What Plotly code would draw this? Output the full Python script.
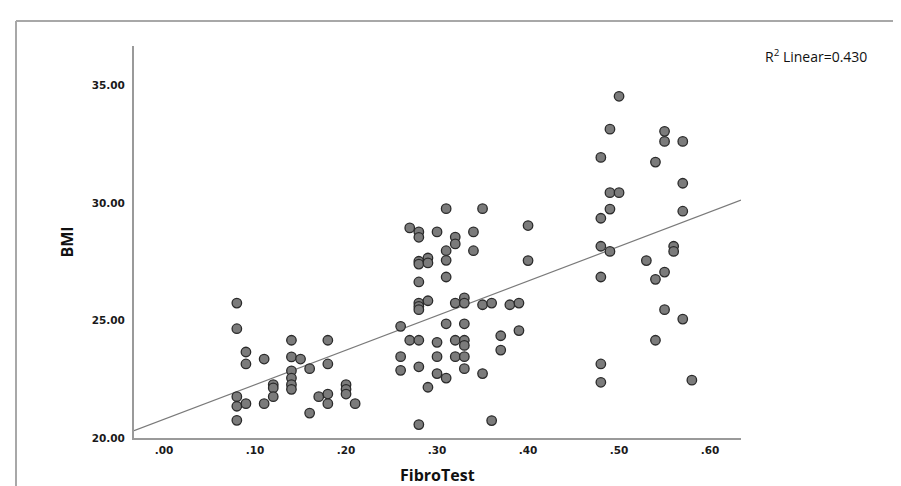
import plotly.graph_objects as go

# ---- data ----
fibrotest = [
    0.08, 0.08, 0.08, 0.08, 0.08,
    0.09, 0.09, 0.09,
    0.11, 0.11,
    0.12, 0.12, 0.12,
    0.14, 0.14, 0.14, 0.14, 0.14, 0.14,
    0.15,
    0.16, 0.16,
    0.17,
    0.18, 0.18, 0.18, 0.18,
    0.20, 0.20, 0.20,
    0.21,
    0.26, 0.26, 0.26,
    0.27, 0.27,
    0.28, 0.28, 0.28, 0.28, 0.28, 0.28, 0.28, 0.28, 0.28, 0.28, 0.28,
    0.29, 0.29, 0.29, 0.29,
    0.30, 0.30, 0.30, 0.30,
    0.31, 0.31, 0.31, 0.31, 0.31, 0.31,
    0.32, 0.32, 0.32, 0.32, 0.32,
    0.33, 0.33, 0.33, 0.33, 0.33, 0.33, 0.33,
    0.34, 0.34,
    0.35, 0.35, 0.35,
    0.36, 0.36,
    0.37, 0.37,
    0.38,
    0.39, 0.39,
    0.40, 0.40,
    0.48, 0.48, 0.48, 0.48, 0.48, 0.48,
    0.49, 0.49, 0.49, 0.49,
    0.50, 0.50,
    0.53,
    0.54, 0.54, 0.54,
    0.55, 0.55, 0.55, 0.55,
    0.56, 0.56,
    0.57, 0.57, 0.57, 0.57,
    0.58,
]
bmi = [
    25.74, 24.65, 21.76, 21.35, 20.75,
    23.66, 23.15, 21.46,
    23.36, 21.46,
    22.27, 22.13, 21.76,
    24.16, 23.45, 22.86, 22.55, 22.27, 22.07,
    23.36,
    22.95, 21.06,
    21.76,
    24.16, 23.15, 21.87, 21.46,
    22.27, 22.07, 21.87,
    21.46,
    24.75, 23.46, 22.88,
    28.94, 24.16,
    28.77, 28.54, 27.52, 27.40, 26.64, 25.74, 25.60, 25.46, 24.16, 23.03, 20.57,
    27.66, 27.45, 25.84, 22.16,
    28.77, 24.07, 23.46, 22.74,
    29.76, 27.97, 27.56, 26.85, 24.86, 22.55,
    28.55, 28.26, 25.74, 24.16, 23.46,
    25.96, 25.74, 24.86, 24.16, 23.94, 23.46, 22.95,
    28.77, 27.97,
    29.76, 25.67, 22.74,
    25.74, 20.74,
    24.35, 23.74,
    25.67,
    25.74, 24.57,
    29.04, 27.55,
    31.94, 29.35, 28.16, 26.85, 23.15, 22.37,
    33.14, 30.44, 29.74, 27.94,
    34.54, 30.44,
    27.55,
    31.74, 26.75, 24.16,
    33.05, 32.62, 27.06, 25.46,
    28.16, 27.94,
    32.62, 30.84, 29.65, 25.06,
    22.46,
]

# fitted line (BMI = a + b * FibroTest)
fit_intercept = 20.8
fit_slope = 14.7
r2_text = "R<sup>2</sup> Linear=0.430"

x_range = [-0.033, 0.634]
y_range = [20.0, 36.68]
x_ticks = [0.0, 0.1, 0.2, 0.3, 0.4, 0.5, 0.6]
x_tick_text = [".00", ".10", ".20", ".30", ".40", ".50", ".60"]
y_ticks = [20, 25, 30, 35]
y_tick_text = ["20.00", "25.00", "30.00", "35.00"]

# ---- layout geometry (pixels) ----
W, H = 901, 486
L, R, T, B = 126, 168, 38, 56
PW, PH = W - L - R, H - T - B


def px(xp):
    return (xp - L) / PW


def py(yp):
    return (H - B - yp) / PH


fig = go.Figure()

fit_x = [x_range[0], x_range[1]]
fit_y = [fit_intercept + fit_slope * v for v in fit_x]
fig.add_trace(go.Scatter(
    x=fit_x, y=fit_y, mode="lines",
    line=dict(color="#7a7a7a", width=1.2),
    hoverinfo="skip", showlegend=False,
))

fig.add_trace(go.Scatter(
    x=fibrotest, y=bmi, mode="markers",
    marker=dict(size=9.5, color="#7b7b7b",
                line=dict(color="#2a2a2a", width=1.3)),
    showlegend=False,
))

axis_font = dict(family="DejaVu Sans", size=10.5, color="#1a1a1a", weight="bold")

fig.update_xaxes(
    range=x_range, tickvals=x_ticks, ticktext=x_tick_text,
    showgrid=False, zeroline=False, showline=True,
    linecolor="#9a9a9a", linewidth=2, ticks="",
    tickfont=axis_font, ticklabelstandoff=1,
)
fig.update_yaxes(
    range=y_range, tickvals=y_ticks, ticktext=y_tick_text,
    showgrid=False, zeroline=False, showline=True,
    linecolor="#9a9a9a", linewidth=2, ticks="",
    tickfont=axis_font, ticklabelstandoff=5,
)

# outer frame (left and top edges)
fig.add_shape(type="line", xref="paper", yref="paper",
              x0=px(8), x1=px(8), y0=py(13), y1=py(H + 5),
              line=dict(color="#a8a8a8", width=2))
fig.add_shape(type="line", xref="paper", yref="paper",
              x0=px(8), x1=px(W + 5), y0=py(13), y1=py(13),
              line=dict(color="#a8a8a8", width=2))

fig.add_annotation(text="<b>BMI</b>", xref="paper", yref="paper",
                   x=px(58.5), y=0.5, textangle=-90, showarrow=False,
                   xanchor="center", yanchor="middle",
                   font=dict(family="Open Sans", size=16, color="#111111"))
fig.add_annotation(text="<b>FibroTest</b>", xref="paper", yref="paper",
                   x=0.5, y=py(467), showarrow=False,
                   xanchor="center", yanchor="middle",
                   font=dict(family="Open Sans", size=16, color="#111111"))
fig.add_annotation(text=r2_text, xref="paper", yref="paper",
                   x=px(755), y=py(48), showarrow=False,
                   xanchor="left", yanchor="middle",
                   font=dict(family="Open Sans", size=14, color="#111111"))

fig.update_layout(
    width=W, height=H,
    margin=dict(l=L, r=R, t=T, b=B, autoexpand=False),
    paper_bgcolor="white", plot_bgcolor="white",
    showlegend=False,
)

fig.write_html("out.html")
